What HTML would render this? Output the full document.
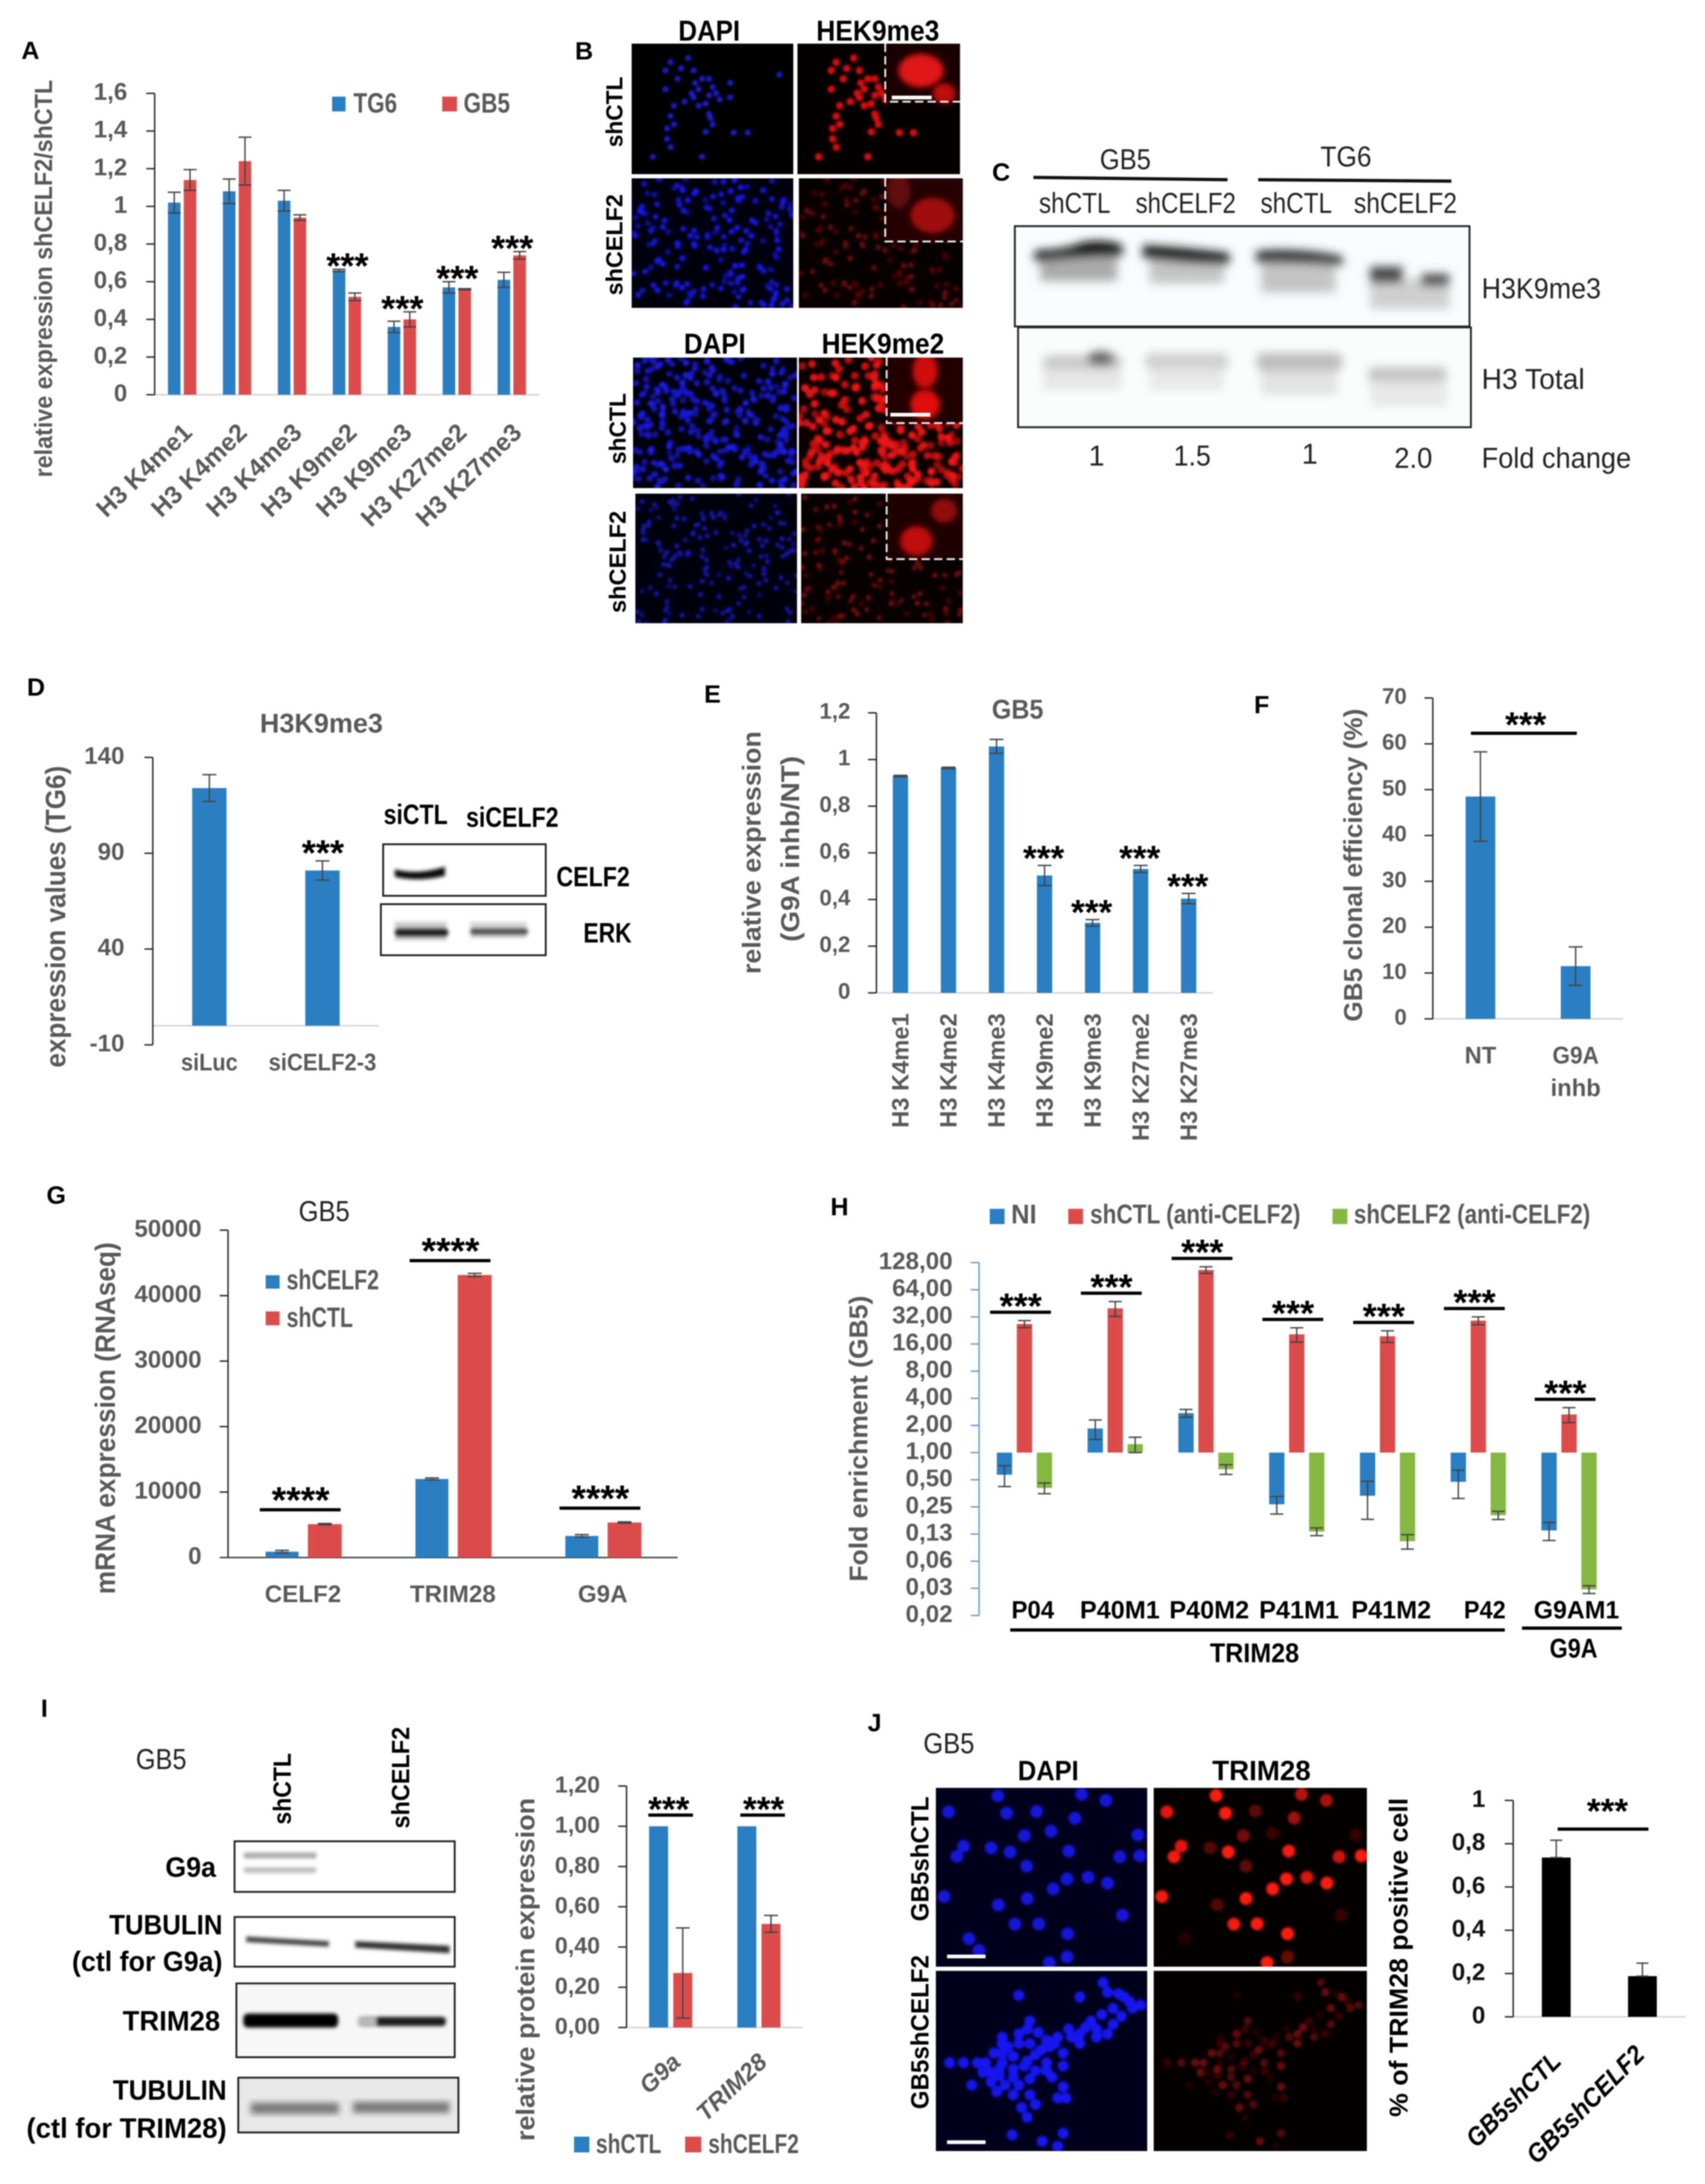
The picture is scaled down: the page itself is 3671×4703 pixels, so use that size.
<!DOCTYPE html>
<html lang="en">
<head>
<meta charset="utf-8">
<title>CELF2 multi-panel figure</title>
<style>
html,body{margin:0;padding:0;background:#fff}
svg#fig{display:block;filter:blur(1.3px)}
text{font-family:"Liberation Sans",sans-serif;dominant-baseline:central}
.b{font-weight:700}
.g{fill:#595959}
.k{fill:#000}
.d{fill:#222}
.L{font-size:54px;font-weight:700;fill:#000}
.t{font-size:50px;font-weight:700;fill:#595959}
</style>
</head>
<body>
<svg id="fig" xmlns="http://www.w3.org/2000/svg" width="3671" height="4703" viewBox="0 0 3671 4703">
<defs>
<filter id="soft" x="-5%" y="-5%" width="110%" height="110%"><feGaussianBlur stdDeviation="2.6"/></filter>
<filter id="inset" x="-30%" y="-30%" width="160%" height="160%"><feGaussianBlur stdDeviation="6"/></filter>
<filter id="bl" x="-10%" y="-30%" width="120%" height="160%"><feGaussianBlur stdDeviation="7"/></filter>
<filter id="bl2" x="-10%" y="-30%" width="120%" height="160%"><feGaussianBlur stdDeviation="4"/></filter>
<filter id="bl3" x="-10%" y="-30%" width="120%" height="160%"><feGaussianBlur stdDeviation="10"/></filter>
</defs>
<rect width="3671" height="4703" fill="#fff"/>

<!-- Panel letters -->
<text class="L" x="46" y="109">A</text>
<text class="L" x="1238" y="110">B</text>
<text class="L" x="2136" y="371">C</text>
<text class="L" x="58" y="1480">D</text>
<text class="L" x="1516" y="1495">E</text>
<text class="L" x="2700" y="1518">F</text>
<text class="L" x="100" y="2574">G</text>
<text class="L" x="1788" y="2599">H</text>
<text class="L" x="88" y="3679">I</text>
<text class="L" x="1868" y="3710">J</text>

<!-- Panel A static -->
<text class="t" transform="rotate(-90 94 600)" x="94" y="600" text-anchor="middle" textLength="856" style="font-size:54px">relative expression shCELF2/shCTL</text>
<rect x="715" y="208" width="29" height="32" fill="#2a7fc2"/>
<text class="t" x="761" y="222" textLength="94" style="font-size:60px">TG6</text>
<rect x="952" y="208" width="32" height="32" fill="#dc4c4c"/>
<text class="t" x="998" y="222" textLength="100" style="font-size:60px">GB5</text>

<!-- Panel B -->
<text class="b k" x="1527" y="67" text-anchor="middle" textLength="133" style="font-size:62px">DAPI</text>
<text class="b k" x="1890" y="67" text-anchor="middle" textLength="265" style="font-size:62px">HEK9me3</text>
<text class="b k" x="1539" y="741" text-anchor="middle" textLength="133" style="font-size:62px">DAPI</text>
<text class="b k" x="1901" y="741" text-anchor="middle" textLength="264" style="font-size:62px">HEK9me2</text>
<text class="b k" x="1323" y="241" transform="rotate(-90 1323 241)" text-anchor="middle" textLength="152" style="font-size:50px">shCTL</text>
<text class="b k" x="1323" y="527" transform="rotate(-90 1323 527)" text-anchor="middle" textLength="218" style="font-size:50px">shCELF2</text>
<text class="b k" x="1330" y="923" transform="rotate(-90 1330 923)" text-anchor="middle" textLength="153" style="font-size:50px">shCTL</text>
<text class="b k" x="1330" y="1210" transform="rotate(-90 1330 1210)" text-anchor="middle" textLength="220" style="font-size:50px">shCELF2</text>

<svg x="1360" y="94" width="348" height="281" viewBox="1360 94 348 281"><rect x="1360" y="94" width="348" height="281" fill="#000"/><g id="m1"></g></svg>
<svg x="1717" y="94" width="350" height="281" viewBox="1717 94 350 281"><rect x="1717" y="94" width="350" height="281" fill="#050000"/><g id="m2"></g>
<g><rect x="1906" y="94" width="161" height="125" fill="#1a0000"/><ellipse cx="1983" cy="152" rx="49" ry="36" fill="#e01212" filter="url(#inset)"/><ellipse cx="2033" cy="201" rx="25" ry="22" fill="#c01010" filter="url(#inset)"/><rect x="1920" y="206" width="86" height="8" fill="#fff"/><path d="M1906 94V219H2067" fill="none" stroke="#eee" stroke-width="4" stroke-dasharray="18 9"/></g></svg>
<svg x="1360" y="384" width="348" height="279" viewBox="1360 384 348 279"><rect x="1360" y="384" width="348" height="279" fill="#00000f"/><g id="m3"></g></svg>
<svg x="1720" y="384" width="353" height="279" viewBox="1720 384 353 279"><rect x="1720" y="384" width="353" height="279" fill="#080000"/><g id="m4"></g>
<g><rect x="1906" y="384" width="167" height="136" fill="#240000"/><ellipse cx="2008" cy="464" rx="48" ry="38" fill="#a01010" filter="url(#inset)"/><ellipse cx="1935" cy="411" rx="25" ry="38" fill="#601010" filter="url(#inset)"/><path d="M1906 384V520H2073" fill="none" stroke="#eee" stroke-width="4" stroke-dasharray="18 9"/></g></svg>
<svg x="1363" y="770" width="353" height="281" viewBox="1363 770 353 281"><rect x="1363" y="770" width="353" height="281" fill="#00000a"/><g id="m5"></g></svg>
<svg x="1720" y="770" width="353" height="281" viewBox="1720 770 353 281"><rect x="1720" y="770" width="353" height="281" fill="#0a0000"/><g id="m6"></g>
<g><rect x="1909" y="770" width="164" height="141" fill="#220000"/><ellipse cx="1992" cy="799" rx="27" ry="38" fill="#d01010" filter="url(#inset)"/><ellipse cx="1992" cy="871" rx="32" ry="32" fill="#e01010" filter="url(#inset)"/><rect x="1917" y="889" width="86" height="8" fill="#fff"/><path d="M1909 770V911H2073" fill="none" stroke="#eee" stroke-width="4" stroke-dasharray="18 9"/></g></svg>
<svg x="1368" y="1063" width="348" height="279" viewBox="1368 1063 348 279"><rect x="1368" y="1063" width="348" height="279" fill="#00000f"/><g id="m7"></g></svg>
<svg x="1725" y="1063" width="348" height="279" viewBox="1725 1063 348 279"><rect x="1725" y="1063" width="348" height="279" fill="#080000"/><g id="m8"></g>
<g><rect x="1909" y="1063" width="164" height="141" fill="#200000"/><ellipse cx="2033" cy="1100" rx="28" ry="26" fill="#901010" filter="url(#inset)"/><ellipse cx="1973" cy="1165" rx="35" ry="32" fill="#c01010" filter="url(#inset)"/><path d="M1909 1063V1204H2073" fill="none" stroke="#eee" stroke-width="4" stroke-dasharray="18 9"/></g></svg>

<!-- Panel C -->
<text class="d" x="2423" y="344" text-anchor="middle" textLength="110" style="font-size:62px">GB5</text>
<text class="d" x="2898" y="338" text-anchor="middle" textLength="110" style="font-size:62px">TG6</text>
<line x1="2225" y1="382" x2="2643" y2="387" stroke="#111" stroke-width="7"/>
<line x1="2709" y1="387" x2="3125" y2="390" stroke="#111" stroke-width="7"/>
<text class="d" x="2314" y="438" text-anchor="middle" textLength="154" style="font-size:62px">shCTL</text>
<text class="d" x="2553" y="438" text-anchor="middle" textLength="216" style="font-size:62px">shCELF2</text>
<text class="d" x="2791" y="438" text-anchor="middle" textLength="154" style="font-size:62px">shCTL</text>
<text class="d" x="3026" y="438" text-anchor="middle" textLength="222" style="font-size:62px">shCELF2</text>
<g>
<rect x="2185" y="487" width="979" height="216" fill="#f8fcfc"/>
<g filter="url(#bl3)">
<rect x="2240" y="550" width="165" height="55" fill="#aaa"/><rect x="2475" y="555" width="160" height="55" fill="#c4c4c4"/><rect x="2715" y="560" width="160" height="70" fill="#c4c4c4"/><rect x="2950" y="600" width="170" height="65" fill="#cfcfcf"/>
<path d="M2228 540Q2300 538 2330 522Q2380 514 2416 528V552Q2330 552 2228 564Z" fill="#0c0c0c"/><path d="M2461 528Q2540 532 2646 545V570Q2540 568 2461 556Z" fill="#161616"/><path d="M2705 540Q2800 532 2890 552V572Q2800 566 2705 566Z" fill="#303030"/><rect x="2950" y="574" width="70" height="36" fill="#4a4a4a"/><rect x="3060" y="590" width="60" height="26" fill="#4a4a4a"/>
</g>
<rect x="2185" y="487" width="979" height="216" fill="none" stroke="#222" stroke-width="4"/>
</g>
<g>
<rect x="2192" y="705" width="975" height="215" fill="#fbfdfd"/>
<g filter="url(#bl3)">
<rect x="2245" y="790" width="170" height="50" fill="#e6e6e6"/><rect x="2475" y="790" width="160" height="50" fill="#e8e8e8"/><rect x="2715" y="795" width="165" height="55" fill="#e2e2e2"/><rect x="2950" y="820" width="165" height="55" fill="#e8e8e8"/>
<rect x="2245" y="765" width="170" height="30" rx="12" fill="#c8c8c8"/><ellipse cx="2370" cy="772" rx="30" ry="16" fill="#666"/><rect x="2465" y="760" width="180" height="35" rx="12" fill="#d0d0d0"/><rect x="2705" y="760" width="185" height="38" rx="12" fill="#bdbdbd"/><rect x="2945" y="790" width="170" height="32" rx="12" fill="#c4c4c4"/>
</g>
<rect x="2192" y="705" width="975" height="215" fill="none" stroke="#222" stroke-width="4"/>
</g>
<text class="d" x="3190" y="622" textLength="257" style="font-size:62px">H3K9me3</text>
<text class="d" x="3190" y="817" textLength="222" style="font-size:62px">H3 Total</text>
<text class="d" x="3190" y="987" textLength="322" style="font-size:62px">Fold change</text>
<text class="d" x="2361" y="982" text-anchor="middle" style="font-size:62px">1</text>
<text class="d" x="2567" y="982" text-anchor="middle" textLength="80" style="font-size:62px">1.5</text>
<text class="d" x="2820" y="978" text-anchor="middle" style="font-size:62px">1</text>
<text class="d" x="3043" y="987" text-anchor="middle" textLength="82" style="font-size:62px">2.0</text>

<!-- Panel D static -->
<text class="t" x="692" y="1558" text-anchor="middle" textLength="265" style="font-size:58px">H3K9me3</text>
<text class="t" x="120" y="1974" transform="rotate(-90 120 1974)" text-anchor="middle" textLength="650" style="font-size:60px">expression values (TG6)</text>
<text class="b k" x="895" y="1754" text-anchor="middle" textLength="138" style="font-size:60px">siCTL</text>
<text class="b k" x="1103" y="1760" text-anchor="middle" textLength="199" style="font-size:60px">siCELF2</text>
<g>
<g filter="url(#bl2)"><path d="M850 1872Q900 1885 958 1866V1886Q900 1900 850 1888Z" fill="#111"/></g>
<rect x="825" y="1818" width="350" height="111" fill="none" stroke="#222" stroke-width="4"/>
</g>
<g>
<g filter="url(#bl2)"><rect x="850" y="1985" width="112" height="40" fill="#ccc"/><rect x="1012" y="1985" width="122" height="35" fill="#d6d6d6"/><rect x="850" y="1998" width="115" height="20" rx="8" fill="#222"/><rect x="1012" y="1998" width="125" height="16" rx="8" fill="#555"/></g>
<rect x="820" y="1947" width="355" height="110" fill="none" stroke="#222" stroke-width="4"/>
</g>
<text class="b k" x="1198" y="1888" textLength="158" style="font-size:60px">CELF2</text>
<text class="b k" x="1256" y="2009" textLength="104" style="font-size:60px">ERK</text>

<!-- Panel E / F static -->
<text class="t" x="2191" y="1528" text-anchor="middle" textLength="111" style="font-size:58px">GB5</text>
<text class="t" x="1618" y="1836" transform="rotate(-90 1618 1836)" text-anchor="middle" textLength="523" style="font-size:56px">relative expression</text>
<text class="t" x="1701" y="1828" transform="rotate(-90 1701 1828)" text-anchor="middle" textLength="400" style="font-size:56px">(G9A inhb/NT)</text>
<text class="t" x="2913" y="1863" transform="rotate(-90 2913 1863)" text-anchor="middle" textLength="674" style="font-size:56px">GB5 clonal efficiency (%)</text>

<!-- Panel G static -->
<text class="d" x="698" y="2609" text-anchor="middle" textLength="110" style="font-size:62px">GB5</text>
<text class="t" x="227" y="3054" transform="rotate(-90 227 3054)" text-anchor="middle" textLength="758" style="font-size:60px">mRNA expression (RNAseq)</text>
<rect x="572" y="2746" width="30" height="29" fill="#2a7fc2"/>
<text class="t" x="617" y="2756" textLength="199" style="font-size:60px">shCELF2</text>
<rect x="572" y="2824" width="30" height="30" fill="#dc4c4c"/>
<text class="t" x="617" y="2837" textLength="143" style="font-size:60px">shCTL</text>

<!-- Panel H static -->
<rect x="2131" y="2603" width="32" height="33" fill="#2a7fc2"/>
<text class="t" x="2177" y="2615" textLength="55" style="font-size:58px">NI</text>
<rect x="2300" y="2603" width="32" height="33" fill="#dc4c4c"/>
<text class="t" x="2347" y="2615" textLength="453" style="font-size:58px">shCTL (anti-CELF2)</text>
<rect x="2869" y="2603" width="32" height="33" fill="#85b842"/>
<text class="t" x="2915" y="2615" textLength="509" style="font-size:58px">shCELF2 (anti-CELF2)</text>
<text class="t" x="1848" y="3098" transform="rotate(-90 1848 3098)" text-anchor="middle" textLength="616" style="font-size:56px">Fold enrichment (GB5)</text>
<line x1="2175" y1="3510" x2="3240" y2="3510" stroke="#000" stroke-width="7"/>
<line x1="3277" y1="3506" x2="3492" y2="3506" stroke="#000" stroke-width="7"/>
<text class="b k" x="2701" y="3560" text-anchor="middle" textLength="192" style="font-size:58px">TRIM28</text>
<text class="b k" x="3388" y="3550" text-anchor="middle" textLength="103" style="font-size:58px">G9A</text>

<!-- Panel I static -->
<text class="d" x="347" y="3789" text-anchor="middle" textLength="109" style="font-size:62px">GB5</text>
<text class="b k" x="608" y="3852" transform="rotate(-90 608 3852)" text-anchor="middle" textLength="154" style="font-size:54px">shCTL</text>
<text class="b k" x="863" y="3828" transform="rotate(-90 863 3828)" text-anchor="middle" textLength="219" style="font-size:54px">shCELF2</text>
<g><g filter="url(#bl2)"><rect x="525" y="3989" width="156" height="13" fill="#aaa"/><rect x="525" y="4021" width="156" height="12" fill="#bbb"/></g><rect x="505" y="3965" width="474" height="109" fill="none" stroke="#222" stroke-width="4"/></g>
<g><g filter="url(#bl2)"><path d="M530 4170L708 4180V4192L530 4182Z" fill="#444"/><path d="M765 4180L968 4190V4206L765 4194Z" fill="#333"/></g><rect x="505" y="4128" width="474" height="107" fill="none" stroke="#222" stroke-width="4"/></g>
<g><rect x="509" y="4271" width="470" height="159" fill="#f7f7f7"/><g filter="url(#bl2)"><rect x="524" y="4336" width="204" height="30" rx="10" fill="#000"/><rect x="770" y="4343" width="190" height="20" rx="8" fill="#1a1a1a"/><rect x="770" y="4345" width="40" height="16" fill="#bbb"/></g><rect x="509" y="4271" width="470" height="159" fill="none" stroke="#222" stroke-width="4"/></g>
<g><rect x="513" y="4474" width="474" height="118" fill="#e8e8e8"/><g filter="url(#bl)"><rect x="540" y="4528" width="190" height="24" fill="#777"/><rect x="760" y="4526" width="208" height="24" fill="#777"/></g><rect x="513" y="4474" width="474" height="118" fill="none" stroke="#222" stroke-width="4"/></g>
<text class="b k" x="465" y="4021" text-anchor="end" textLength="109" style="font-size:60px">G9a</text>
<text class="b k" x="479" y="4145" text-anchor="end" textLength="244" style="font-size:60px">TUBULIN</text>
<text class="b k" x="479" y="4224" text-anchor="end" textLength="324" style="font-size:60px">(ctl for G9a)</text>
<text class="b k" x="474" y="4352" text-anchor="end" textLength="210" style="font-size:60px">TRIM28</text>
<text class="b k" x="488" y="4501" text-anchor="end" textLength="245" style="font-size:60px">TUBULIN</text>
<text class="b k" x="488" y="4583" text-anchor="end" textLength="431" style="font-size:60px">(ctl for TRIM28)</text>
<text class="t" x="1131" y="4241" transform="rotate(-90 1131 4241)" text-anchor="middle" textLength="739" style="font-size:56px">relative protein expression</text>
<rect x="1236" y="4601" width="33" height="34" fill="#2a7fc2"/>
<text class="t" x="1283" y="4617" textLength="141" style="font-size:58px">shCTL</text>
<rect x="1475" y="4601" width="35" height="34" fill="#dc4c4c"/>
<text class="t" x="1525" y="4617" textLength="195" style="font-size:58px">shCELF2</text>

<!-- Panel J static -->
<text class="d" x="2043" y="3755" text-anchor="middle" textLength="110" style="font-size:62px">GB5</text>
<text class="b k" x="2257" y="3813" text-anchor="middle" textLength="131" style="font-size:60px">DAPI</text>
<text class="b k" x="2716" y="3813" text-anchor="middle" textLength="212" style="font-size:60px">TRIM28</text>
<text class="b k" x="1981" y="4003" transform="rotate(-90 1981 4003)" text-anchor="middle" textLength="269" style="font-size:54px">GB5shCTL</text>
<text class="b k" x="1981" y="4376" transform="rotate(-90 1981 4376)" text-anchor="middle" textLength="332" style="font-size:54px">GB5shCELF2</text>
<svg x="2015" y="3850" width="455" height="385" viewBox="2015 3850 455 385"><rect x="2015" y="3850" width="455" height="385" fill="#00001c"/><g id="j1"></g><rect x="2039" y="4209" width="83" height="8" fill="#fff"/></svg>
<svg x="2484" y="3850" width="459" height="385" viewBox="2484 3850 459 385"><rect x="2484" y="3850" width="459" height="385" fill="#040000"/><g id="j2"></g></svg>
<svg x="2015" y="4244" width="455" height="388" viewBox="2015 4244 455 388"><rect x="2015" y="4244" width="455" height="388" fill="#00001c"/><g id="j3"></g><rect x="2039" y="4609" width="83" height="8" fill="#fff"/></svg>
<svg x="2484" y="4244" width="459" height="388" viewBox="2484 4244 459 388"><rect x="2484" y="4244" width="459" height="388" fill="#040000"/><g id="j4"></g></svg>
<text class="b k" x="3011" y="4215" transform="rotate(-90 3011 4215)" text-anchor="middle" textLength="687" style="font-size:56px">% of TRIM28 positive cell</text>

<g id="charts"></g>
</svg>
<script>
// ---------- Panel A data ----------
const aCategories = ['H3 K4me1','H3 K4me2','H3 K4me3','H3 K9me2','H3 K9me3','H3 K27me2','H3 K27me3'];
const aTG6 = [1.02,1.08,1.03,0.66,0.36,0.57,0.61];
const aGB5 = [1.14,1.24,0.94,0.52,0.40,0.56,0.74];
const aTG6Err = [0.055,0.065,0.055,0.006,0.03,0.03,0.04];
const aGB5Err = [0.055,0.127,0.015,0.02,0.04,0.003,0.02];
const aStars = ['','','','***','***','***','***'];
const aTickValues = [0,0.2,0.4,0.6,0.8,1,1.2,1.4,1.6];
const aTickLabels = ['0','0,2','0,4','0,6','0,8','1','1,2','1,4','1,6'];
// ---------- Panel D data ----------
const dCategories = ['siLuc','siCELF2-3'];
const dValues = [124,81];
const dErr = [7,5];
const dStars = ['','***'];
const dTickValues = [-10,40,90,140];
const dTickLabels = ['-10','40','90','140'];
// ---------- Panel E data ----------
const eCategories = ['H3 K4me1','H3 K4me2','H3 K4me3','H3 K9me2','H3 K9me3','H3 K27me2','H3 K27me3'];
const eValues = [0.929,0.964,1.056,0.503,0.30,0.531,0.404];
const eErr = [0.003,0.003,0.03,0.043,0.014,0.015,0.022];
const eStars = ['','','','***','***','***','***'];
const eTickValues = [0,0.2,0.4,0.6,0.8,1,1.2];
const eTickLabels = ['0','0,2','0,4','0,6','0,8','1','1,2'];
// ---------- Panel F data ----------
const fValues = [48.5,11.5];
const fErr = [9.75,4.2];
const fTickValues = [0,10,20,30,40,50,60,70];
const fTickLabels = ['0','10','20','30','40','50','60','70'];
// ---------- Panel G data ----------
const gCategories = ['CELF2','TRIM28','G9A'];
const gShCELF2 = [900,12000,3300];
const gShCTL = [5100,43150,5350];
const gShCELF2Err = [200,150,200];
const gShCTLErr = [100,250,100];
const gStars = ['****','****','****'];
const gTickValues = [0,10000,20000,30000,40000,50000];
const gTickLabels = ['0','10000','20000','30000','40000','50000'];
// ---------- Panel H data ----------
const hCategories = ['P04','P40M1','P40M2','P41M1','P41M2','P42','G9AM1'];
const hNI = [0.568,1.85,2.74,0.267,0.332,0.474,0.137];
const hShCTL = [26.7,39.8,106,20.5,19.5,29.1,2.65];
const hShCELF2 = [0.405,1.24,0.653,0.133,0.104,0.202,0.0304];
const hNIErr = [0.148,0.45,0.27,0.059,0.15,0.164,0.031];
const hShCTLErr = [2.4,7.5,9,3.7,2.9,2.9,0.5];
const hShCELF2Err = [0.055,0.24,0.08,0.013,0.019,0.021,0.003];
const hTickValues = [128,64,32,16,8,4,2,1,0.5,0.25,0.125,0.0625,0.03125,0.015625];
const hTickLabels = ['128,00','64,00','32,00','16,00','8,00','4,00','2,00','1,00','0,50','0,25','0,13','0,06','0,03','0,02'];
// ---------- Panel I data ----------
const iCategories = ['G9a','TRIM28'];
const iShCTL = [1,1];
const iShCELF2 = [0.271,0.515];
const iShCELF2Err = [0.224,0.042];
const iTickValues = [0,0.2,0.4,0.6,0.8,1,1.2];
const iTickLabels = ['0,00','0,20','0,40','0,60','0,80','1,00','1,20'];
// ---------- Panel J data ----------
const jCategories = ['GB5shCTL','GB5shCELF2'];
const jValues = [0.736,0.188];
const jErr = [0.08,0.06];
const jTickValues = [0,0.2,0.4,0.6,0.8,1];
const jTickLabels = ['0','0,2','0,4','0,6','0,8','1'];

const BLUE='#2a7fc2', RED='#dc4c4c', GREEN='#85b842', GREY='#595959';
const NS='http://www.w3.org/2000/svg';
const charts=document.getElementById('charts');

function el(tag,attrs,parent,name){
  const n=document.createElementNS(NS,tag);
  for(const k in attrs){n.setAttribute(k,attrs[k]);}
  
  
  parent.appendChild(n);
  return n;
}
function linear(d0,d1,r0,r1){return v=>r0+(v-d0)/(d1-d0)*(r1-r0);}
function band(x0,x1,n){return i=>x0+(x1-x0)*(i+0.5)/n;}
function label(parent,str,x,y,o,name){
  const a={x:x,y:y,'text-anchor':o.anchor||'middle',fill:o.fill||GREY,'font-weight':o.weight||700,style:'font-size:'+(o.size||52)+'px'+(o.italic?';font-style:italic':'')};
  if(o.rotate){a.transform='rotate('+o.rotate+' '+x+' '+y+')';}
  if(o.length){a.textLength=o.length;}
  const t=el('text',a,parent,name);
  t.textContent=str;
  return t;
}
function line(parent,x1,y1,x2,y2,stroke,w,name){return el('line',{x1:x1,y1:y1,x2:x2,y2:y2,stroke:stroke,'stroke-width':w},parent,name);}
function yAxis(parent,axisX,tv,tl,y,labelRight,o){
  o=o||{};
  const c=o.color||'#222';
  const tops=tv.map(y);
  line(parent,axisX,Math.min.apply(null,tops),axisX,Math.max.apply(null,tops),c,3,'y-axis');
  tv.forEach((v,i)=>{
    line(parent,axisX-18,y(v),axisX,y(v),c,3,'y-axis-tick');
    label(parent,tl[i],labelRight,y(v)-3,{anchor:'end',size:o.size||52,fill:o.fill||GREY},'y-tick-label');
  });
}
function bar(parent,cx,w,y0,yv,fill,name){
  el('rect',{x:cx-w/2,y:Math.min(y0,yv),width:w,height:Math.abs(yv-y0),fill:fill},parent,name);
}
function err(parent,cx,ya,yb,cap,name){
  const g=el('g',{stroke:'#444','stroke-width':3},parent,name);
  line(g,cx,ya,cx,yb,'#444',3,'error-stem');
  line(g,cx-cap/2,ya,cx+cap/2,ya,'#444',3,'error-cap');
  line(g,cx-cap/2,yb,cx+cap/2,yb,'#444',3,'error-cap');
}
function stars(parent,str,cx,cy,size,name){
  return label(parent,str,cx,cy+0.21*size,{size:size,fill:'#000'},name);
}

// ---------- Chart A ----------
(function(){
  const g=el('g',{},charts,'panel-a-chart');
  const x=band(333,1161,aCategories.length), y=linear(0,1.6,850,201);
  line(g,333,y(0),1161,y(0),'#d0d0d0',3,'x-axis');
  yAxis(g,333,aTickValues,aTickLabels,y,274,{size:52});
  aCategories.forEach((c,i)=>{
    const cx=x(i);
    bar(g,cx-17,27,y(0),y(aTG6[i]),BLUE,'bar-tg6-'+i);
    bar(g,cx+17,27,y(0),y(aGB5[i]),RED,'bar-gb5-'+i);
    err(g,cx-17,y(aTG6[i]+aTG6Err[i]),y(aTG6[i]-aTG6Err[i]),28,'error-bar-tg6');
    err(g,cx+17,y(aGB5[i]+aGB5Err[i]),y(aGB5[i]-aGB5Err[i]),28,'error-bar-gb5');
    if(aStars[i]){
      const top=Math.min(y(aTG6[i]+aTG6Err[i]),y(aGB5[i]+aGB5Err[i]));
      stars(g,aStars[i],cx+1,top-24,78,'significance-stars');
    }
    label(g,c,cx+12,922,{anchor:'end',size:54,rotate:-44},'x-tick-label');
  });
})();

// ---------- Chart D ----------
(function(){
  const g=el('g',{},charts,'panel-d-chart');
  const x=band(329,816,dCategories.length), y=linear(-10,140,2250,1631);
  line(g,329,y(0),816,y(0),'#d0d0d0',3,'x-axis');
  yAxis(g,329,dTickValues,dTickLabels,y,268,{size:52});
  dCategories.forEach((c,i)=>{
    bar(g,x(i),74,y(0),y(dValues[i]),BLUE,'bar-'+c);
    err(g,x(i),y(dValues[i]+dErr[i]),y(dValues[i]-dErr[i]),30,'error-bar');
    if(dStars[i]){stars(g,dStars[i],x(i)+1,y(dValues[i]+dErr[i])-34,78,'significance-stars');}
    label(g,c,x(i),2288,{size:52,length:i?232:122},'x-tick-label');
  });
})();

// ---------- Chart E ----------
(function(){
  const g=el('g',{},charts,'panel-e-chart');
  const x=band(1887,2611,eCategories.length), y=linear(0,1.2,2138,1535);
  line(g,1887,y(0),2611,y(0),'#d0d0d0',3,'x-axis');
  yAxis(g,1887,eTickValues,eTickLabels,y,1831,{size:48});
  eCategories.forEach((c,i)=>{
    bar(g,x(i),33,y(0),y(eValues[i]),BLUE,'bar-'+c);
    err(g,x(i),y(eValues[i]+eErr[i]),y(eValues[i]-eErr[i]),30,'error-bar');
    if(eStars[i]){stars(g,eStars[i],x(i)-2,y(eValues[i]+eErr[i])-31,76,'significance-stars');}
    label(g,c,x(i),2182,{anchor:'end',size:51,rotate:-90},'x-tick-label');
  });
})();

// ---------- Chart F ----------
(function(){
  const g=el('g',{},charts,'panel-f-chart');
  const x=band(3085,3495,fValues.length), y=linear(0,70,2194,1503);
  line(g,3085,y(0),3495,y(0),'#d0d0d0',3,'x-axis');
  yAxis(g,3085,fTickValues,fTickLabels,y,3029,{size:48});
  fValues.forEach((v,i)=>{
    bar(g,x(i),64,y(0),y(v),BLUE,'bar-'+i);
    err(g,x(i),y(v+fErr[i]),y(v-fErr[i]),30,'error-bar');
  });
  const top=y(fValues[0]+fErr[0]);
  line(g,3167,top-40,3395,top-40,'#000',7,'significance-line');
  stars(g,'***',3285,top-74,76,'significance-stars');
  label(g,'NT',x(0),2273,{size:52,length:68},'x-tick-label-nt');
  label(g,'G9A',x(1),2273,{size:52,length:100},'x-tick-label-g9a');
  label(g,'inhb',x(1),2343,{size:52,length:108},'x-tick-label-inhb');
})();

// ---------- Chart G ----------
(function(){
  const g=el('g',{},charts,'panel-g-chart');
  const x=band(491,1459,gCategories.length), y=linear(0,50000,3354,2649);
  yAxis(g,491,gTickValues,gTickLabels,y,434,{size:52});
  line(g,473,y(0),1459,y(0),'#333',3,'x-axis');
  gCategories.forEach((c,i)=>{
    const cx=x(i);
    bar(g,cx-45,71,y(0),y(gShCELF2[i]),BLUE,'bar-shcelf2-'+c);
    bar(g,cx+47,73,y(0),y(gShCTL[i]),RED,'bar-shctl-'+c);
    err(g,cx-45,y(gShCELF2[i]+gShCELF2Err[i]),y(gShCELF2[i]-gShCELF2Err[i]),30,'error-bar-shcelf2');
    err(g,cx+47,y(gShCTL[i]+gShCTLErr[i]),y(gShCTL[i]-gShCTLErr[i]),30,'error-bar-shctl');
    const ly=y(gShCTL[i])-31;
    line(g,cx-93,ly,cx+81,ly,'#000',7,'significance-line');
    stars(g,gStars[i],cx-5,ly-38,80,'significance-stars');
    label(g,c,cx,3433,{size:52},'x-tick-label');
  });
})();

// ---------- Chart H (log2 axis) ----------
(function(){
  const g=el('g',{},charts,'panel-h-chart');
  const x=band(2108,3476,hCategories.length);
  const y=v=>3128-Math.log2(v)*58.46;
  const xLabelShift=[18,10,7,5,8,14,16];
  yAxis(g,2108,hTickValues,hTickLabels,y,2051,{color:'#5b9bd5',size:52});
  hCategories.forEach((c,i)=>{
    const cx=x(i);
    const series=[[hNI,hNIErr,BLUE,-43,'ni'],[hShCTL,hShCTLErr,RED,0,'shctl'],[hShCELF2,hShCELF2Err,GREEN,43,'shcelf2']];
    series.forEach(s=>{
      const v=s[0][i], e=s[1][i];
      bar(g,cx+s[3],33,y(1),y(v),s[2],'bar-'+s[4]+'-'+c);
      err(g,cx+s[3],y(v+e),y(Math.max(v-e,0.001)),28,'error-bar-'+s[4]);
    });
    const ly=y(hShCTL[i]+hShCTLErr[i])-18;
    line(g,cx-74,ly,cx+57,ly,'#000',7,'significance-line');
    stars(g,'***',cx-8,ly-30,78,'significance-stars');
    label(g,c,cx+xLabelShift[i],3467,{size:54,fill:'#000',length:c.length>3?(c==='G9AM1'?184:172):(c==='P04'?92:90)},'x-tick-label');
  });
})();

// ---------- Chart I ----------
(function(){
  const g=el('g',{},charts,'panel-i-chart');
  const x=band(1349,1729,iCategories.length), y=linear(0,1.2,4366,3846);
  line(g,1349,y(0),1728,y(0),'#d0d0d0',3,'x-axis');
  yAxis(g,1349,iTickValues,iTickLabels,y,1292,{size:50});
  iCategories.forEach((c,i)=>{
    const cx=x(i);
    bar(g,cx-26,41,y(0),y(iShCTL[i]),BLUE,'bar-shctl-'+c);
    bar(g,cx+26,41,y(0),y(iShCELF2[i]),RED,'bar-shcelf2-'+c);
    err(g,cx+26,y(iShCELF2[i]+iShCELF2Err[i]),y(iShCELF2[i]-iShCELF2Err[i]),30,'error-bar-shcelf2');
    const ly=y(Math.max(iShCTL[i],iShCELF2[i]+iShCELF2Err[i]))-24;
    line(g,cx-48+i*8,ly,cx+48+i*8,ly,'#000',7,'significance-line');
    stars(g,'***',cx-4+i*14,ly-28,76,'significance-stars');
    label(g,c,cx+(i?9:13),4432,{anchor:'end',size:52,rotate:-43,italic:true},'x-tick-label');
  });
})();

// ---------- Chart J ----------
(function(){
  const g=el('g',{},charts,'panel-j-chart');
  const x=band(3258,3629,jCategories.length), y=linear(0,1,4343,3877);
  line(g,3258,y(0),3629,y(0),'#d0d0d0',3,'x-axis');
  yAxis(g,3258,jTickValues,jTickLabels,y,3198,{fill:'#111',size:52});
  jCategories.forEach((c,i)=>{
    bar(g,x(i),62,y(0),y(jValues[i]),'#000','bar-'+c);
    err(g,x(i),y(jValues[i]+jErr[i]),y(jValues[i]),26,'error-bar');
    label(g,c,x(i)-(i?6:0),i?4414:4428,{anchor:'end',size:56,rotate:-45,italic:true,fill:'#000',weight:700,length:i?332:262},'x-tick-label');
  });
  const top=y(jValues[0]+jErr[0]);
  line(g,x(0)+3,top-24,x(1)+13,top-24,'#000',7,'significance-line');
  stars(g,'***',3461,top-78,76,'significance-stars');
})();

// ---------- Micrograph cells (decorative nuclei, not chart data) ----------
function spots(hostId,pts,r,fill,name){
  const host=document.getElementById(hostId);
  const g=el('g',{filter:'url(#soft)'},host,name+'-group');
  pts.forEach(p=>{
    el('circle',{cx:p[0],cy:p[1],r:r,fill:fill,opacity:p.length>2?p[2]:1},g,name);
  });
}
function speckle(seed,count,x,y,w,h){
  let s=seed;
  const next=()=>{s=(s*1103515245+12345)%2147483648;return s/2147483648;};
  const out=[];
  for(let i=0;i<count;i++){out.push([x+next()*w,y+next()*h,0.55+next()*0.45]);}
  return out;
}
const bx=v=>1300+v*1.512, by=v=>v*0.893;
const bSparse=[[95,150],[120,140],[128,170],[105,190],[88,215],[135,215],[128,235],[155,210],[165,240],[180,200],[100,255],[150,275],[155,300],[100,300],[90,335],[145,318],[185,320],[205,320],[140,378],[70,378],[250,180],[95,355],[145,250],[125,225],[160,225],[110,165],[140,190],[150,230],[135,255],[95,280],[152,285],[90,310],[150,190],[115,245],[130,200],[88,170],[180,235]];
spots('m1',bSparse.map(p=>[bx(p[0]),by(p[1])]),6.5,'#1c1cd0','nucleus');
spots('m2',bSparse.map(p=>[bx(p[0]+236),by(p[1])]),8,'#d81010','nucleus');
spots('m3',speckle(11,170,1360,384,348,279),6.5,'#1818f0','nucleus');
spots('m4',speckle(11,140,1720,384,353,279),6.5,'#5e0808','nucleus');
spots('m5',speckle(23,300,1363,770,353,281),7,'#1a1ae0','nucleus');
spots('m6',speckle(37,300,1720,770,353,281),8.5,'#f01414','nucleus');
spots('m7',speckle(41,170,1368,1063,348,279),5.5,'#1818b4','nucleus');
spots('m8',speckle(53,140,1725,1063,348,279),6,'#700a0a','nucleus');

const jx=v=>1800+v*1.193, jy=v=>3620+v*0.6907;
const jTopBlue=[[292,358],[443,353],[487,372],[203,408],[308,412],[362,407],[431,428],[388,468],[340,482],[545,480],[230,515],[218,547],[280,520],[314,533],[420,530],[512,548],[548,545],[344,577],[417,617],[455,612],[490,630],[392,648],[195,672],[345,678],[293,698],[517,730],[323,758],[366,757],[418,788],[240,803],[258,840],[417,860],[385,878]];
spots('j1',jTopBlue.map(p=>[jx(p[0]),jy(p[1])]),14,'#1212d8','nucleus');
const jTopRed=[[686,357,1],[840,353,.7],[885,372,.65],[597,408,.9],[703,412,1],[757,405,.35],[827,427,.6],[787,475,.2],[735,482,.45],[938,480,.2],[623,515,.9],[610,548,.95],[675,520,.3],[708,533,1],[817,530,.95],[908,548,.8],[948,545,1],[740,577,.35],[813,617,1],[850,612,.85],[886,630,1],[788,648,1],[588,672,.95],[740,678,1],[688,698,.3],[912,730,.2],[718,758,.95],[760,757,1],[815,788,1],[630,803,.12],[778,878,1],[815,860,.4]];
spots('j2',jTopRed.map(p=>[jx(p[0]),jy(p[1]),p[2]]),14,'#ff1a10','nucleus');
const jBottom=[[330,980],[440,985],[482,940],[490,970],[510,975],[530,1000],[550,1010],[500,1020],[480,1040],[460,1060],[500,1070],[450,1080],[420,1085],[490,1100],[470,1110],[440,1130],[400,1110],[380,1120],[350,1060],[330,1100],[300,1110],[350,1130],[310,1140],[285,1160],[320,1170],[360,1165],[410,1160],[270,1190],[300,1190],[340,1200],[380,1190],[410,1200],[390,1235],[205,1190],[230,1190],[265,1220],[245,1260],[295,1230],[320,1235],[350,1240],[290,1280],[320,1290],[350,1290],[410,1265],[400,1300],[415,1300],[360,1320],[335,1330],[345,1360],[318,1415],[410,1410],[372,1435],[400,1450],[300,1130],[330,1130],[370,1150],[385,1140],[345,1185],[320,1210],[295,1210],[360,1215],[380,1215],[330,1260],[305,1260],[280,1250],[395,1130],[425,1110],[520,985],[470,1085],[515,1045],[535,1020],[440,1100],[365,1095],[345,1085],[300,1160],[255,1190],[280,1220]];
spots('j3',jBottom.map(p=>[jx(p[0]),jy(p[1])]),12,'#1414ee','nucleus');
spots('j4',jBottom.map((p,i)=>[jx(p[0]+393),jy(p[1]),0.12+(i%4)*0.12]),9,'#d01010','nucleus');

document.querySelectorAll('text[textLength]').forEach(t=>t.setAttribute('lengthAdjust','spacingAndGlyphs'));
</script>
</body>
</html>
